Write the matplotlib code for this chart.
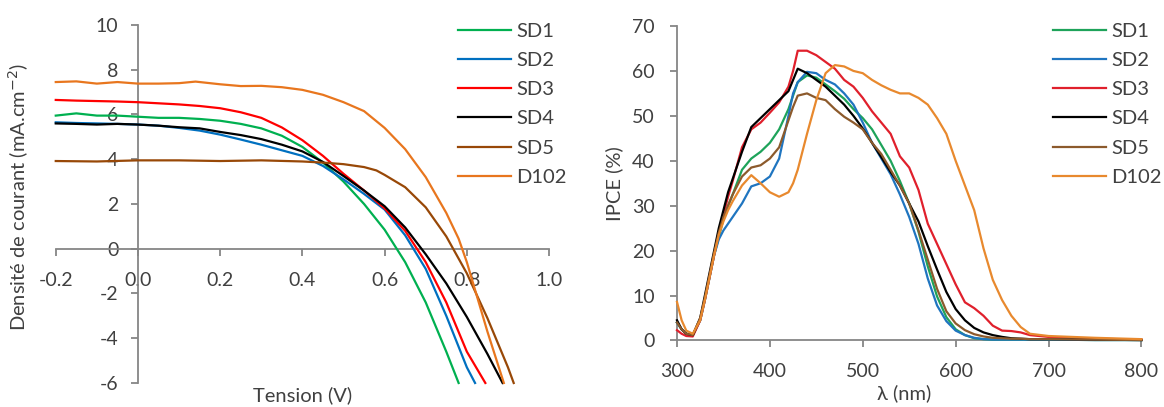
import numpy as np
import matplotlib
matplotlib.use("Agg")
import matplotlib.pyplot as plt

plt.rcParams['font.family'] = ['Lato', 'DejaVu Sans']
plt.rcParams['axes.unicode_minus'] = False

names = ['SD1', 'SD2', 'SD3', 'SD4', 'SD5', 'D102']

# J-V curves (Tension in V, current density in mA.cm-2)
v_sd1 = [-0.2, -0.15, -0.1, -0.05, 0, 0.05, 0.1, 0.15, 0.2, 0.25, 0.3, 0.35, 0.4, 0.45, 0.5, 0.55, 0.6, 0.65, 0.7, 0.75, 0.78]
j_sd1 = [5.95, 6.05, 5.95, 5.95, 5.9, 5.85, 5.85, 5.8, 5.72, 5.58, 5.38, 5.05, 4.55, 3.85, 3.0, 2.0, 0.85, -0.6, -2.4, -4.6, -6.0]

v_sd2 = [-0.2, -0.15, -0.1, -0.05, 0, 0.05, 0.1, 0.15, 0.2, 0.25, 0.3, 0.35, 0.4, 0.45, 0.5, 0.55, 0.6, 0.65, 0.7, 0.75, 0.8, 0.82]
j_sd2 = [5.65, 5.62, 5.6, 5.58, 5.55, 5.5, 5.4, 5.28, 5.1, 4.88, 4.65, 4.4, 4.15, 3.7, 3.1, 2.45, 1.75, 0.6, -0.9, -3.0, -5.3, -6.0]

v_sd3 = [-0.2, -0.15, -0.1, -0.05, 0, 0.05, 0.1, 0.15, 0.2, 0.25, 0.3, 0.35, 0.4, 0.45, 0.5, 0.55, 0.6, 0.65, 0.7, 0.75, 0.8, 0.845]
j_sd3 = [6.65, 6.62, 6.6, 6.58, 6.55, 6.5, 6.45, 6.38, 6.28, 6.1, 5.85, 5.42, 4.85, 4.15, 3.35, 2.6, 1.8, 0.8, -0.6, -2.4, -4.6, -6.0]

v_sd4 = [-0.2, -0.15, -0.1, -0.05, 0, 0.05, 0.1, 0.15, 0.2, 0.25, 0.3, 0.35, 0.4, 0.45, 0.5, 0.55, 0.6, 0.65, 0.7, 0.75, 0.8, 0.85, 0.887]
j_sd4 = [5.6, 5.58, 5.55, 5.58, 5.55, 5.5, 5.43, 5.38, 5.22, 5.08, 4.9, 4.65, 4.35, 3.88, 3.25, 2.6, 1.9, 0.95, -0.25, -1.55, -3.05, -4.7, -6.0]

v_sd5 = [-0.2, -0.1, 0, 0.1, 0.2, 0.3, 0.4, 0.45, 0.5, 0.55, 0.58, 0.6, 0.65, 0.7, 0.75, 0.8, 0.85, 0.9, 0.914]
j_sd5 = [3.92, 3.9, 3.95, 3.95, 3.92, 3.95, 3.9, 3.85, 3.78, 3.65, 3.5, 3.3, 2.75, 1.85, 0.55, -1.1, -3.1, -5.3, -6.0]

v_d102 = [-0.2, -0.15, -0.1, -0.05, 0, 0.05, 0.1, 0.14, 0.2, 0.25, 0.3, 0.35, 0.4, 0.45, 0.5, 0.55, 0.6, 0.65, 0.7, 0.75, 0.78, 0.8, 0.85, 0.89]
j_d102 = [7.45, 7.48, 7.38, 7.45, 7.38, 7.38, 7.4, 7.47, 7.35, 7.27, 7.28, 7.22, 7.1, 6.88, 6.55, 6.15, 5.4, 4.45, 3.2, 1.6, 0.45, -0.6, -3.7, -6.0]

# IPCE spectra (wavelength in nm, IPCE in %)
wl = [300, 305, 310, 317, 325, 330, 335, 340, 345, 350, 355, 360, 370, 380, 390, 400, 410, 420, 425, 430, 440, 450, 460,
      470, 480, 490, 500, 510, 520, 530, 540, 550, 560, 570, 580, 590, 600, 610, 620, 630, 640, 650, 660,
      670, 680, 700, 750, 800]
ipce_sd1 = [4.0, 2.5, 1.5, 1.2, 4.5, 9, 14, 19, 23, 27, 30, 32.5, 38, 40.5, 42, 44, 47, 51.5, 54.5, 57.5, 59, 58.5, 57,
            55.5, 53.8, 51.5, 49.5, 47, 43.5, 40, 35.5, 30.5, 24.2, 16.5, 9.8, 5.2, 2.5, 1.2, 0.5, 0.3, 0.2, 0.2, 0.2,
            0.2, 0.2, 0.2, 0.1, 0.1]
ipce_sd2 = [4.0, 2.5, 1.5, 1.2, 4.5, 9, 14, 19, 22.5, 24.5, 26, 27.5, 30.5, 34.3, 35, 36.5, 40.5, 50, 55, 57.5, 59.8, 59.5, 58,
            57, 55, 52.5, 48.5, 44, 40.5, 37, 32.5, 27.5, 21.5, 13.8, 7.8, 4.3, 2.2, 1.2, 0.6, 0.3, 0.2, 0.2, 0.2,
            0.2, 0.2, 0.2, 0.1, 0.1]
ipce_sd3 = [2.3, 1.5, 1.0, 0.9, 4.5, 9, 14, 19, 24, 28, 32, 35.5, 43, 47, 48.5, 50.7, 53, 56.5, 60, 64.5, 64.5, 63.5, 62,
            60.5, 58, 56.5, 54, 51, 48.5, 46, 41, 38.5, 33.5, 26, 21.5, 17, 12.5, 8.5, 7.2, 5.5, 3.3, 2.2, 2.1,
            1.8, 1.2, 0.8, 0.4, 0.2]
ipce_sd4 = [4.5, 2.5, 1.5, 1.2, 5, 10, 15, 20, 25, 29, 33, 36, 42, 47.5, 49.5, 51.5, 53.5, 55.5, 58, 60.5, 59.5, 58, 56.5,
            54.5, 52.5, 50, 47.2, 44, 40.8, 37.5, 34.5, 30.5, 26.5, 21, 15.8, 10.8, 7, 4.5, 2.8, 1.8, 1.2, 0.8, 0.5,
            0.4, 0.3, 0.3, 0.2, 0.1]
ipce_sd5 = [4.0, 2.5, 1.5, 1.2, 5, 9.5, 14.5, 19.5, 24, 27.5, 30, 32.5, 36.5, 38.5, 39, 40.5, 43, 49, 52, 54.5, 55, 54, 53.5,
            51.5, 49.8, 48.5, 47, 44, 41.5, 38, 34.5, 30.5, 24.5, 18, 11.5, 6.5, 3.8, 2.3, 1.4, 0.9, 0.6, 0.5, 0.4,
            0.4, 0.3, 0.3, 0.2, 0.1]
ipce_d102 = [8.6, 4.5, 2.2, 1.5, 4.5, 9, 14, 19, 23.5, 26.5, 29, 31, 34.5, 36.8, 35, 33, 32, 33, 35, 38, 46, 53.5, 59.5,
             61.3, 61, 60, 59.5, 58, 56.8, 55.8, 55, 55, 54, 52.5, 49.5, 46, 40, 34.5, 29, 20.5, 13.5, 9, 5.5,
             3, 1.5, 1.0, 0.6, 0.3]

jv_colors = ['#00b050', '#0070c0', '#ff0000', '#000000', '#984807', '#e8761e']
ipce_colors = ['#1ea35a', '#1f75c0', '#e0202c', '#000000', '#8c5a2c', '#e8892e']

axis_grey = '#868686'
text_grey = '#404040'


def style_axis(ax):
    for s in ['top', 'right']:
        ax.spines[s].set_visible(False)
    for s in ['left', 'bottom']:
        ax.spines[s].set_color(axis_grey)
        ax.spines[s].set_linewidth(1.3)
    ax.tick_params(colors=axis_grey, labelcolor=text_grey, labelsize=14,
                   length=5, width=1.3, direction='out')


def add_legend(ax, fig, x0):
    ax.legend(loc='upper left', bbox_to_anchor=(x0, 0.944), bbox_transform=fig.transFigure,
              frameon=False, fontsize=14.5, handlelength=2.65, handletextpad=0.25,
              labelspacing=0.6, borderpad=0, borderaxespad=0, labelcolor=text_grey)


def main():
    fig = plt.figure(figsize=(11.64, 4.07), dpi=100)

    # left : J-V
    ax1 = fig.add_axes([0.0479, 0.059, 0.4238, 0.8796])
    jv = [(v_sd1, j_sd1), (v_sd2, j_sd2), (v_sd3, j_sd3), (v_sd4, j_sd4), (v_sd5, j_sd5), (v_d102, j_d102)]
    for (v, j), c, n in zip(jv, jv_colors, names):
        ax1.plot(v, j, color=c, lw=1.6, label=n, zorder=3, clip_on=False)
    ax1.set_xlim(-0.2, 1.0)
    ax1.set_ylim(-6, 10)
    style_axis(ax1)
    ax1.spines['left'].set_position(('data', 0))
    ax1.spines['bottom'].set_position(('data', 0))
    ax1.set_xticks(np.arange(-0.2, 1.01, 0.2))
    ax1.set_xticklabels(['%.1f' % t for t in np.arange(-0.2, 1.01, 0.2)])
    ax1.set_yticks(range(-6, 11, 2))
    ax1.tick_params(axis='x', pad=12)
    ax1.tick_params(axis='y', pad=9)
    ax1.set_xlabel('Tension (V)', fontsize=14.5, color=text_grey, va='top')
    ax1.xaxis.set_label_coords(0.5, -0.008)
    ax1.set_ylabel('Densité de courant (mA.cm$^{-2}$)', fontsize=14.5, color=text_grey)
    ax1.yaxis.set_label_coords(-0.05, 0.52)
    add_legend(ax1, fig, 0.3935)

    # right : IPCE
    ax2 = fig.add_axes([0.5816, 0.1634, 0.399, 0.7727])
    spectra = [ipce_sd1, ipce_sd2, ipce_sd3, ipce_sd4, ipce_sd5, ipce_d102]
    for y, c, n in zip(spectra, ipce_colors, names):
        ax2.plot(wl, y, color=c, lw=1.6, label=n, zorder=3, clip_on=False)
    ax2.set_xlim(300, 800)
    ax2.set_ylim(0, 70)
    style_axis(ax2)
    ax2.set_xticks(range(300, 801, 100))
    ax2.set_yticks(range(0, 71, 10))
    ax2.tick_params(axis='x', pad=11)
    ax2.tick_params(axis='y', pad=11)
    ax2.set_xlabel('λ (nm)', fontsize=14.5, color=text_grey, va='top')
    ax2.xaxis.set_label_coords(0.49, -0.14)
    ax2.set_ylabel('IPCE (%)', fontsize=14.5, color=text_grey)
    ax2.yaxis.set_label_coords(-0.115, 0.5)
    add_legend(ax2, fig, 0.9046)

    fig.savefig('out.png', dpi=100)


if __name__ == "__main__":
    main()
